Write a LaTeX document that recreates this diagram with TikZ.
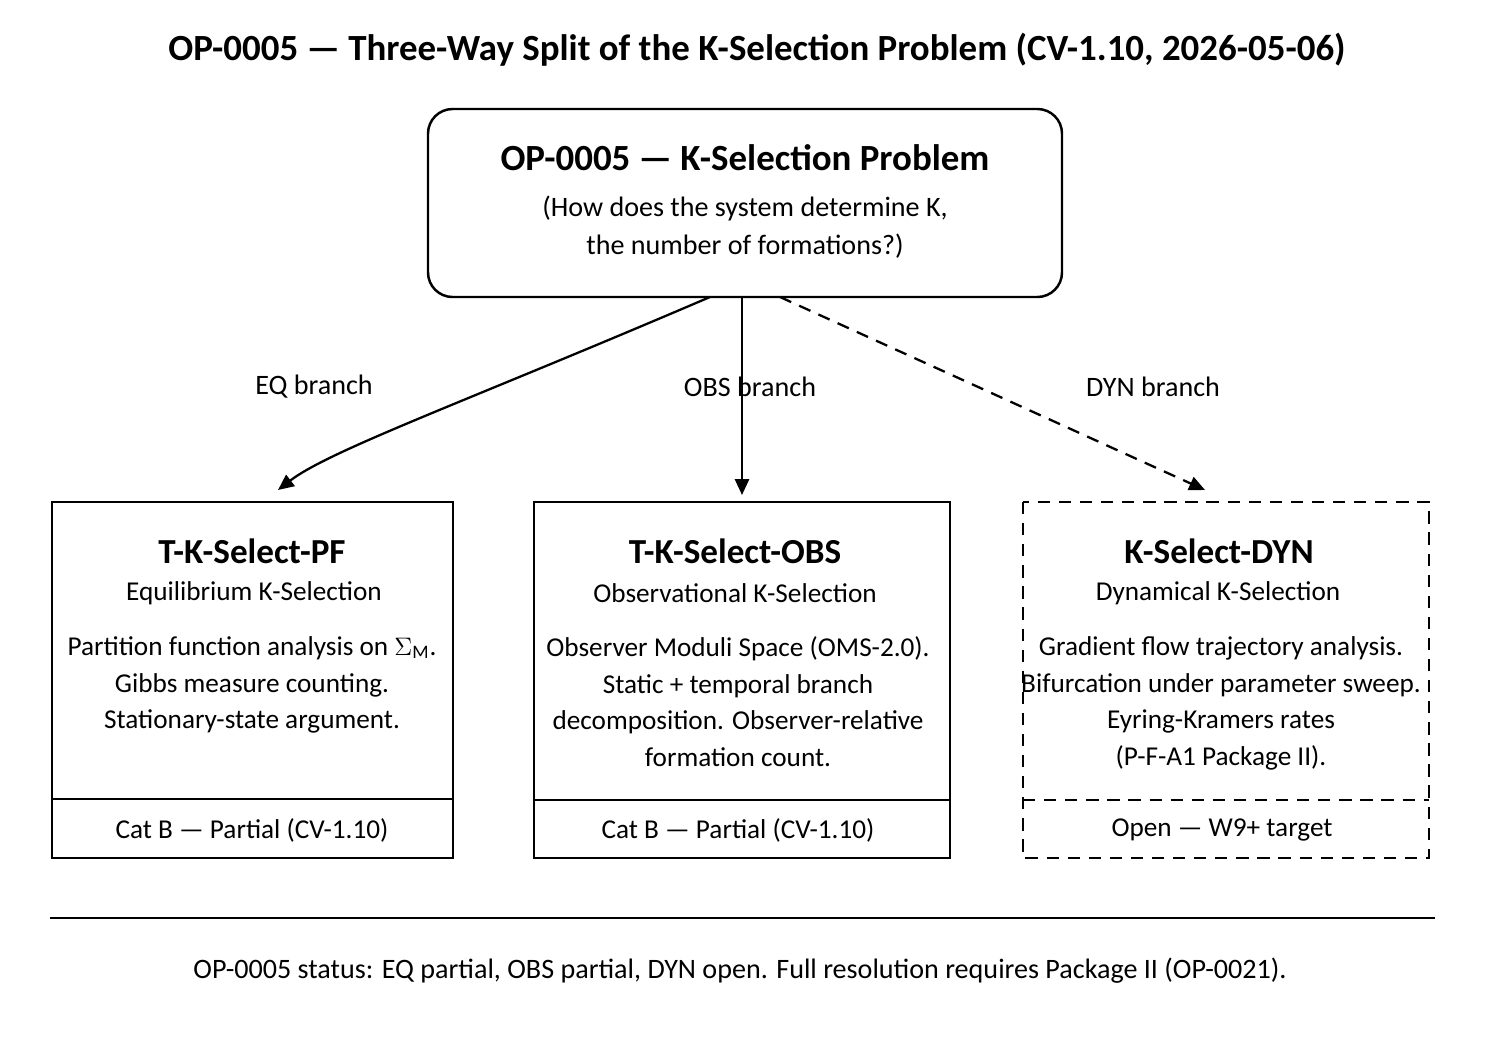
\documentclass[tikz,border=0pt]{standalone}
\usepackage{fontspec}
\setmainfont{Carlito}
\usetikzlibrary{positioning,arrows.meta}
\tikzset{
  box/.style={draw, line width=1.4pt, minimum width=#1*0.02cm, minimum height=356*0.02cm},
  head/.style={font=\fontsize{20}{24}\selectfont\bfseries},
  txt/.style={font=\fontsize{15.5}{21}\selectfont, align=center},
  lab/.style={font=\fontsize{16}{20}\selectfont},
  link/.style={line width=1.3pt, -{Triangle[length=9pt,width=8pt]}}
}
\begin{document}
\begin{tikzpicture}[x=0.02cm,y=-0.02cm]
\useasboundingbox (0,0) rectangle (1491,1055);
% title
\node[font=\fontsize{21}{25}\selectfont\bfseries] (title) at (757,50) {OP-0005 — Three-Way Split of the K-Selection Problem (CV-1.10, 2026-05-06)};
% root problem
\draw[line width=1.4pt, rounded corners=14pt] (428,109) rectangle (1062,297);
\coordinate (rootl) at (710,297);
\coordinate (rootm) at (742,297);
\coordinate (rootr) at (780,297);
\node[head, font=\fontsize{21}{25}\selectfont\bfseries] (root) at (745,158) {OP-0005 — K-Selection Problem};
\node[txt, font=\fontsize{16}{22}\selectfont] (rootq) at (745,227) {(How does the system determine K,\\the number of formations?)};
% three boxes
\draw[line width=1.4pt] (52,502) rectangle (453,858);
\draw[line width=1.4pt] (52,799) -- (453,799);
\draw[line width=1.4pt] (534,502) rectangle (950,858);
\draw[line width=1.4pt] (534,800) -- (950,800);
\draw[line width=1.4pt, dashed, dash pattern=on 7pt off 5pt] (1023,502) rectangle (1429,858);
\draw[line width=1.4pt, dashed, dash pattern=on 7pt off 5pt] (1023,800) -- (1429,800);
% PF
\node[head] (pf) at (252,551) {T-K-Select-PF};
\node[txt] (pfsub) at (254,593) {Equilibrium K-Selection};
\node[txt, anchor=north] (pfbody) at (252,630) {Partition function analysis on $\Sigma_{\mathrm{M}}$.\\Gibbs measure counting.\\Stationary-state argument.};
\node[txt] (pfstat) at (252,830) {Cat B — Partial (CV-1.10)};
% OBS
\node[head] (obs) at (735,551) {T-K-Select-OBS};
\node[txt] (obssub) at (735,593) {Observational K-Selection};
\node[txt, anchor=north] (obsbody) at (738,630) {Observer Moduli Space (OMS-2.0).\\Static + temporal branch\\decomposition. Observer-relative\\formation count.};
\node[txt] (obsstat) at (738,830) {Cat B — Partial (CV-1.10)};
% DYN
\node[head] (dyn) at (1219,551) {K-Select-DYN};
\node[txt] (dynsub) at (1218,593) {Dynamical K-Selection};
\node[txt, anchor=north] (dynbody) at (1221,630) {Gradient flow trajectory analysis.\\Bifurcation under parameter sweep.\\Eyring-Kramers rates\\(P-F-A1 Package II).};
\node[txt] (dynstat) at (1222,830) {Open — W9+ target};
% branches
\coordinate (pftop) at (278,490);
\coordinate (obstop) at (742,495);
\coordinate (dyntop) at (1205,490);
\draw[link] (rootl) .. controls (470,400) and (330,450) .. (pftop);
\draw[link] (rootm) -- (obstop);
\draw[link, dashed, dash pattern=on 7pt off 5pt] (rootr) -- (dyntop);
\node[lab] (eq) at (314,387) {EQ branch};
\node[lab] (ob) at (750,387) {OBS branch};
\node[lab] (dy) at (1153,387) {DYN branch};
% footer
\draw[line width=1.3pt] (50,918) -- (1435,918);
\node[lab] (status) at (740,971) {OP-0005 status: EQ partial, OBS partial, DYN open. Full resolution requires Package II (OP-0021).};
\end{tikzpicture}
\end{document}
